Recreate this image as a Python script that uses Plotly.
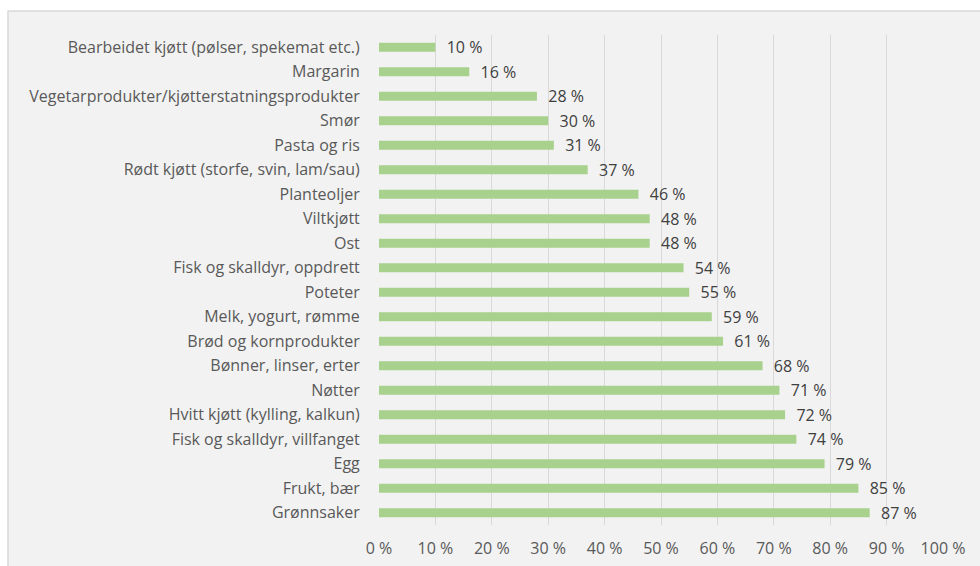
import plotly.graph_objects as go

categories = [
    "Bearbeidet kjøtt (pølser, spekemat etc.)",
    "Margarin",
    "Vegetarprodukter/kjøtterstatningsprodukter",
    "Smør",
    "Pasta og ris",
    "Rødt kjøtt (storfe, svin, lam/sau)",
    "Planteoljer",
    "Viltkjøtt",
    "Ost",
    "Fisk og skalldyr, oppdrett",
    "Poteter",
    "Melk, yogurt, rømme",
    "Brød og kornprodukter",
    "Bønner, linser, erter",
    "Nøtter",
    "Hvitt kjøtt (kylling, kalkun)",
    "Fisk og skalldyr, villfanget",
    "Egg",
    "Frukt, bær",
    "Grønnsaker",
]
values = [10, 16, 28, 30, 31, 37, 46, 48, 48, 54, 55, 59, 61, 68, 71, 72, 74, 79, 85, 87]
tick_vals = list(range(0, 101, 10))
tick_text = [f"{v}\u00a0%" for v in tick_vals]

FONT = "Open Sans"
FS = 16
W, H = 980, 566
L, R, T, B = 379, 37, 35, 41
pw, ph = W - L - R, H - T - B

fig = go.Figure(go.Bar(
    x=values, y=categories, orientation="h",
    marker=dict(color="#a9d18e", line=dict(width=0)),
    width=0.37,
    text=[f"\u00a0\u00a0{v}\u00a0%" for v in values],
    textposition="outside",
    constraintext="none",
    textfont=dict(family=FONT, size=FS, color="#404040"),
    cliponaxis=False,
))

def px_x(p):
    return (p - L) / pw

def px_y(p):
    return (H - B - p) / ph

fig.add_shape(type="rect", xref="paper", yref="paper",
              x0=px_x(8), x1=px_x(990), y0=px_y(580), y1=px_y(11),
              fillcolor="#f2f2f2", line=dict(color="#d9d9d9", width=1.5),
              layer="below")

fig.update_layout(
    width=W, height=H,
    margin=dict(l=L, r=R, t=T, b=B, autoexpand=False),
    paper_bgcolor="white",
    plot_bgcolor="rgba(0,0,0,0)",
    showlegend=False,
    bargap=0.63,
    font=dict(family=FONT, size=FS, color="#595959"),
    xaxis=dict(range=[0, 100], tickvals=tick_vals, ticktext=tick_text,
               showgrid=True, gridcolor="#d9d9d9", gridwidth=1,
               zeroline=False, showline=False, automargin=False,
               ticks="outside", ticklen=9, tickcolor="rgba(0,0,0,0)",
               tickfont=dict(family=FONT, size=FS, color="#595959")),
    yaxis=dict(categoryorder="array", categoryarray=categories,
               autorange="reversed", showgrid=False, zeroline=False,
               showline=False, automargin=False,
               ticks="outside", ticklen=15,
               tickcolor="rgba(0,0,0,0)",
               tickfont=dict(family=FONT, size=FS, color="#595959")),
)

fig.write_html("out.html")
